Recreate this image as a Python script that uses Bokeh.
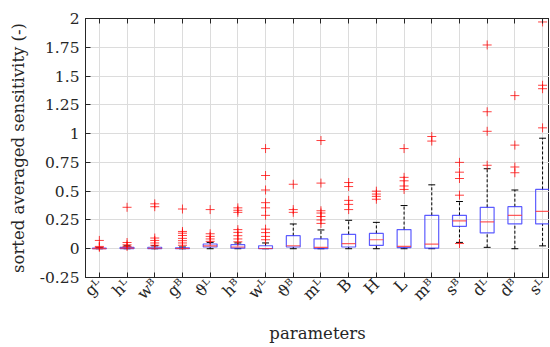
from bokeh.plotting import figure
from bokeh.models import (ColumnDataSource, FixedTicker, LinearAxis, Range1d,
                          CustomJSTickFormatter)
from bokeh.embed import file_html
from bokeh.resources import INLINE

# ---------------- data ----------------
labels = ["gᴸ", "hᴸ", "wᴮ", "gᴮ", "ϑᴸ", "hᴮ", "wᴸ", "ϑᴮ", "mᴸ", "B", "H",
          "L", "mᴮ", "sᴮ", "dᴸ", "dᴮ", "sᴸ"]
q1 = [0.0, 0.0, 0.0, 0.0, 0.015, 0.005, 0.0, 0.015, 0.0, 0.015, 0.029,
      0.01, 0.005, 0.195, 0.137, 0.215, 0.215]
median = [0.0, 0.006, 0.004, 0.002, 0.025, 0.015, 0.002, 0.026, 0.011,
          0.044, 0.078, 0.02, 0.04, 0.242, 0.233, 0.29, 0.325]
q3 = [0.005, 0.012, 0.013, 0.008, 0.041, 0.035, 0.026, 0.113, 0.085,
      0.125, 0.133, 0.166, 0.29, 0.29, 0.36, 0.365, 0.515]
whisker_lo = [0.0, 0.0, 0.0, 0.0, 0.0, 0.0, 0.0, 0.0, 0.0, 0.0, 0.0, 0.0,
              0.0, 0.055, 0.012, 0.0, 0.025]
whisker_hi = [0.008, 0.025, 0.025, 0.015, 0.055, 0.05, 0.05, 0.215, 0.163,
              0.247, 0.229, 0.375, 0.555, 0.41, 0.695, 0.51, 0.96]
outliers = [
    [0.072, 0.02, 0.012],
    [0.36, 0.054, 0.034, 0.02],
    [0.39, 0.365, 0.093, 0.072, 0.05, 0.03],
    [0.345, 0.15, 0.135, 0.115, 0.09, 0.07, 0.05, 0.03],
    [0.34, 0.13, 0.107, 0.085, 0.064],
    [0.355, 0.334, 0.316, 0.166, 0.142, 0.113, 0.085, 0.06],
    [0.87, 0.636, 0.51, 0.40, 0.355, 0.29, 0.17, 0.14, 0.107, 0.078],
    [0.56, 0.34, 0.316],
    [0.94, 0.57, 0.33, 0.31, 0.28, 0.25, 0.22],
    [0.575, 0.54, 0.42, 0.385, 0.34],
    [0.50, 0.475, 0.455, 0.43],
    [0.87, 0.62, 0.59, 0.545, 0.515],
    [0.975, 0.935],
    [0.75, 0.665, 0.61, 0.465, 0.045],
    [1.77, 1.19, 1.02, 0.725],
    [1.33, 0.90, 0.71, 0.66],
    [1.97, 1.42, 1.39, 1.05],
]
y_ticks = [-0.25, 0, 0.25, 0.5, 0.75, 1, 1.25, 1.5, 1.75, 2]

# ---------------- build ----------------
FONT = "DejaVu Serif"
AX = "#262626"
xs = list(range(1, len(labels) + 1))
box_w = 0.5
cap_w = 0.25

src = ColumnDataSource(dict(
    x=xs, q1=q1, med=median, q3=q3, lo=whisker_lo, hi=whisker_hi,
    bl=[x - box_w / 2 for x in xs], br=[x + box_w / 2 for x in xs],
    cl=[x - cap_w / 2 for x in xs], cr=[x + cap_w / 2 for x in xs],
))
ox, oy = [], []
for x, vals in zip(xs, outliers):
    for v in vals:
        ox.append(x)
        oy.append(v)
osrc = ColumnDataSource(dict(x=ox, y=oy))

p = figure(width=549, height=346, output_backend="svg", toolbar_location=None,
           x_range=Range1d(0.5, 17.25), y_range=Range1d(-0.25, 2),
           min_border_left=85, min_border_top=18, min_border_right=0,
           min_border_bottom=69)

# whiskers
p.segment(x0="x", y0="q3", x1="x", y1="hi", source=src, line_color="black",
          line_dash="3 2", line_width=1)
p.segment(x0="x", y0="lo", x1="x", y1="q1", source=src, line_color="black",
          line_dash="3 2", line_width=1)
p.segment(x0="cl", y0="hi", x1="cr", y1="hi", source=src, line_color="black")
p.segment(x0="cl", y0="lo", x1="cr", y1="lo", source=src, line_color="black")
# boxes
p.quad(left="bl", right="br", top="q3", bottom="q1", source=src,
       fill_color=None, line_color="#3333ff", line_alpha=0.8, line_width=1.2)
# medians
p.segment(x0="bl", y0="med", x1="br", y1="med", source=src,
          line_color="#ff3333", line_alpha=0.8, line_width=1.2)
# outliers
p.scatter("x", "y", source=osrc, marker="cross", size=9, line_color="#ff0000",
          line_alpha=0.75, line_width=1)

# axes
xt = FixedTicker(ticks=xs)
p.xaxis.ticker = xt
p.xaxis.major_label_overrides = {x: lab for x, lab in zip(xs, labels)}
p.xaxis.major_label_orientation = 0.785
p.yaxis.ticker = FixedTicker(ticks=y_ticks)
p.yaxis.formatter = CustomJSTickFormatter(code="return tick.toString();")

for ax in (p.xaxis[0], p.yaxis[0]):
    ax.major_tick_in = 5
    ax.major_tick_out = 0
    ax.minor_tick_line_color = None
    ax.axis_line_color = AX
    ax.major_tick_line_color = AX
    ax.major_label_text_font = FONT
    ax.major_label_text_color = AX
    ax.axis_label_text_font = FONT
    ax.axis_label_text_font_size = "16.5px"
    ax.axis_label_text_font_style = "normal"
    ax.axis_label_text_color = AX

p.xaxis.major_label_text_font_size = "16px"
p.yaxis.major_label_text_font_size = "15.5px"
p.xaxis.axis_label = "parameters"
p.yaxis.axis_label = "sorted averaged sensitivity (-)"
p.yaxis.major_label_standoff = 6
p.yaxis.axis_label_standoff = 9
p.xaxis.major_label_standoff = 4
p.xaxis.axis_label_standoff = 10

top = LinearAxis(ticker=FixedTicker(ticks=xs),
                 formatter=CustomJSTickFormatter(code="return '';"),
                 major_tick_in=5, major_tick_out=0, minor_tick_line_color=None,
                 axis_line_color=AX, major_tick_line_color=AX,
                 major_label_standoff=0, major_label_text_font_size="1px")
p.add_layout(top, "above")

p.xgrid.ticker = xt
p.xgrid.grid_line_color = "#dcdcdc"
p.ygrid.grid_line_color = "#dcdcdc"
p.outline_line_color = AX
p.background_fill_color = "white"
p.border_fill_color = "white"

open("out.html", "w").write(file_html(p, INLINE))
